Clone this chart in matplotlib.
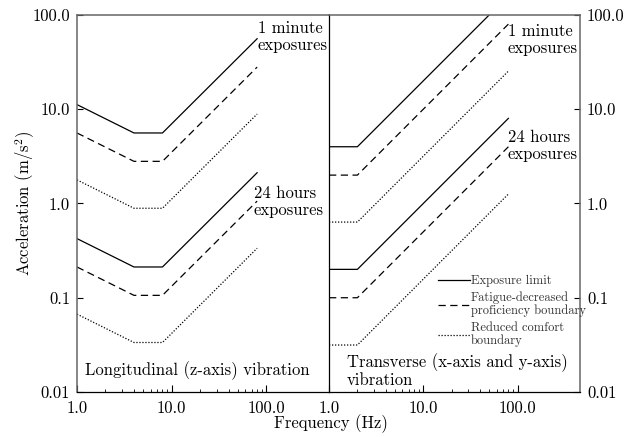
import matplotlib

matplotlib.use("Agg")
import matplotlib.pyplot as plt
from matplotlib.ticker import FixedLocator, NullFormatter, NullLocator

plt.rcParams["font.family"] = "serif"
plt.rcParams["font.serif"] = ["cmr10"]
plt.rcParams["mathtext.fontset"] = "cm"
plt.rcParams["axes.formatter.use_mathtext"] = True

# longitudinal (z-axis): corner frequencies and limits (m/s^2)
freq_z = [1, 4, 8, 80]
z_1min_limit = [11.2, 5.6, 5.6, 56.0]
z_1min_fatigue = [5.6, 2.8, 2.8, 28.0]
z_1min_comfort = [1.78, 0.89, 0.89, 8.9]
z_24h_limit = [0.424, 0.212, 0.212, 2.12]
z_24h_fatigue = [0.212, 0.106, 0.106, 1.06]
z_24h_comfort = [0.067, 0.0335, 0.0335, 0.335]

# transverse (x/y-axis)
freq_xy = [1, 2, 80]
xy_1min_limit = [4.0, 4.0, 160.0]
xy_1min_fatigue = [2.0, 2.0, 80.0]
xy_1min_comfort = [0.635, 0.635, 25.4]
xy_24h_limit = [0.2, 0.2, 8.0]
xy_24h_fatigue = [0.1, 0.1, 4.0]
xy_24h_comfort = [0.0315, 0.0315, 1.26]

x_ticks = [1, 10, 100]
x_tick_labels = ["1.0", "10.0", "100.0"]
y_ticks = [0.01, 0.1, 1, 10, 100]
y_tick_labels = ["0.01", "0.1", "1.0", "10.0", "100.0"]
x_minor = [m * d for d in (1, 10) for m in range(2, 10)]

SOLID = "-"
DASHED = (0, (5.8, 3.6))
DOTTED = (0, (1.0, 1.4))


def draw(ax, freq, sets):
    handles = []
    for lim, fat, com in sets:
        h1, = ax.plot(freq, lim, color="black", lw=0.9, linestyle=SOLID)
        h2, = ax.plot(freq, fat, color="black", lw=0.9, linestyle=DASHED)
        h3, = ax.plot(freq, com, color="black", lw=0.9, linestyle=DOTTED)
        handles = [h1, h2, h3]
    return handles


fig = plt.figure(figsize=(6.26, 4.37), dpi=100)
left, right, mid = 0.123, 0.9265, 0.5256
bottom, top = 0.103, 0.9657
ax1 = fig.add_axes([left, bottom, mid - left, top - bottom])
ax2 = fig.add_axes([mid, bottom, right - mid, top - bottom])

draw(ax1, freq_z, [(z_1min_limit, z_1min_fatigue, z_1min_comfort),
                   (z_24h_limit, z_24h_fatigue, z_24h_comfort)])
handles = draw(ax2, freq_xy, [(xy_1min_limit, xy_1min_fatigue, xy_1min_comfort),
                              (xy_24h_limit, xy_24h_fatigue, xy_24h_comfort)])

for ax in (ax1, ax2):
    ax.set_xscale("log")
    ax.set_yscale("log")
    ax.set_xlim(1, 460)
    ax.set_ylim(0.01, 100)
    ax.xaxis.set_major_locator(FixedLocator(x_ticks))
    ax.set_xticklabels(x_tick_labels)
    ax.xaxis.set_minor_locator(FixedLocator(x_minor))
    ax.xaxis.set_minor_formatter(NullFormatter())
    ax.yaxis.set_major_locator(FixedLocator(y_ticks))
    ax.set_yticklabels(y_tick_labels)
    ax.yaxis.set_minor_locator(NullLocator())
    ax.tick_params(axis="x", which="major", direction="in", length=5, width=0.8,
                   pad=6, labelsize=12)
    ax.tick_params(axis="x", which="minor", direction="in", length=2.5, width=0.6)
    ax.tick_params(axis="y", which="major", direction="in", length=4, width=0.8,
                   pad=5, labelsize=12)
    for s in ("top", "left", "right"):
        ax.spines[s].set_color("#666666")
        ax.spines[s].set_linewidth(1.1)
    ax.spines["bottom"].set_color("black")
    ax.spines["bottom"].set_linewidth(0.9)

# shared middle divider
ax1.spines["right"].set_visible(False)
ax2.spines["left"].set_color("black")
ax2.spines["left"].set_linewidth(0.9)
ax2.yaxis.tick_right()
ax2.yaxis.set_label_position("right")

fs = 12
ax1.text(0.718, 0.985, "1 minute\nexposures", transform=ax1.transAxes,
         ha="left", va="top", fontsize=fs, linespacing=1.15)
ax1.text(0.702, 0.548, "24 hours\nexposures", transform=ax1.transAxes,
         ha="left", va="top", fontsize=fs, linespacing=1.15)
ax2.text(0.713, 0.978, "1 minute\nexposures", transform=ax2.transAxes,
         ha="left", va="top", fontsize=fs, linespacing=1.15)
ax2.text(0.713, 0.695, "24 hours\nexposures", transform=ax2.transAxes,
         ha="left", va="top", fontsize=fs, linespacing=1.15)
ax1.text(0.032, 0.056, "Longitudinal (z-axis) vibration", transform=ax1.transAxes,
         ha="left", va="center", fontsize=fs)
ax2.text(0.072, 0.057, "Transverse (x-axis and y-axis)\nvibration", transform=ax2.transAxes,
         ha="left", va="center", fontsize=fs, linespacing=1.1)

leg = ax2.legend(handles, ["Exposure limit", "Fatigue-decreased\nproficiency boundary",
                           "Reduced comfort\nboundary"],
                 loc="upper left", bbox_to_anchor=(0.434, 0.31), frameon=False,
                 fontsize=9, handlelength=2.6, handletextpad=0.05,
                 labelspacing=0.35, borderpad=0, borderaxespad=0)
for t in leg.get_texts():
    t.set_color("#333333")
    t.set_linespacing(1.05)

fig.text(0.528, 0.03, "Frequency (Hz)", ha="center", va="center", fontsize=fs)
fig.text(0.04, 0.535, "Acceleration (m/s$^2$)", ha="center", va="center",
         rotation=90, fontsize=fs)

fig.savefig("out.png", dpi=100)
